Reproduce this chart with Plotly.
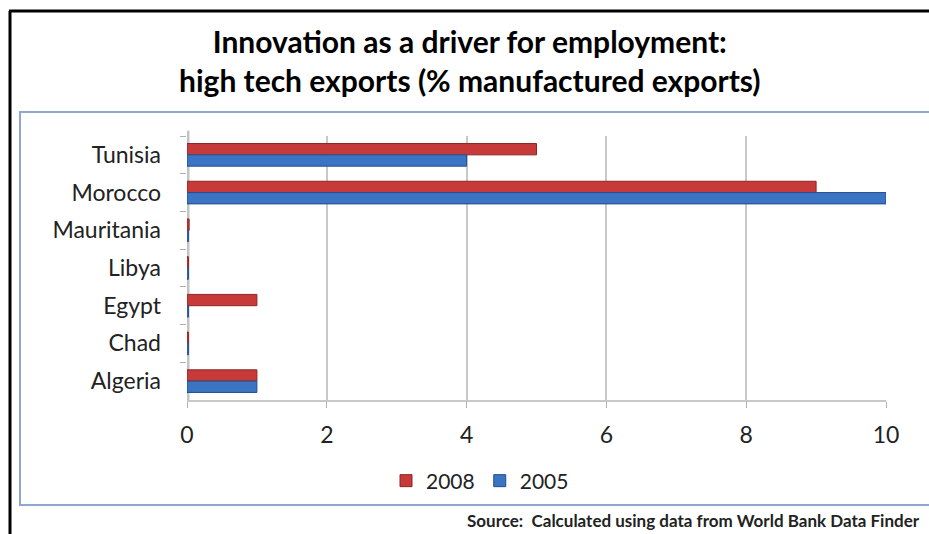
import plotly.graph_objects as go

# Country categories, top to bottom as drawn
countries = ["Tunisia", "Morocco", "Mauritania", "Libya", "Egypt", "Chad", "Algeria"]
# High tech exports as % of manufactured exports
exports_2008 = [5.0, 9.0, 0.03, 0.02, 1.0, 0.02, 1.0]
exports_2005 = [4.0, 10.0, 0.02, 0.02, 0.02, 0.02, 1.0]
x_ticks = [0, 2, 4, 6, 8, 10]

RED = '#C63A3A'
BLUE = '#3A74C2'
FONT = 'Lato'

W, H = 929, 534
L, R, T, B = 187, 43, 136, 134


def px_x(px):
    return (px - L) / (W - L - R)


def px_y(py):
    return (H - B - py) / (H - T - B)


fig = go.Figure()
fig.add_trace(go.Bar(
    name='2008', y=countries, x=exports_2008, orientation='h',
    marker=dict(color=RED, line=dict(color='#8E2424', width=1)),
))
fig.add_trace(go.Bar(
    name='2005', y=countries, x=exports_2005, orientation='h',
    marker=dict(color=BLUE, line=dict(color='#244E8A', width=1)),
))

shapes = [
    # outer black frame (left and top)
    dict(type='line', xref='paper', yref='paper', x0=px_x(10), x1=px_x(10),
         y0=px_y(11), y1=px_y(540), line=dict(color='black', width=3)),
    dict(type='line', xref='paper', yref='paper', x0=px_x(9), x1=px_x(935),
         y0=px_y(11), y1=px_y(11), line=dict(color='black', width=3)),
    # chart area box
    dict(type='rect', xref='paper', yref='paper', x0=px_x(20), x1=px_x(940),
         y0=px_y(505), y1=px_y(112), line=dict(color='#8EA7CC', width=2)),
    # side wall of the plot
    dict(type='line', xref='x', yref='paper', x0=0, x1=0, y0=0, y1=1.02,
         line=dict(color='#C4C4C4', width=5), layer='below'),
]

fig.update_layout(
    width=W, height=H,
    barmode='group', bargap=0.4, bargroupgap=0,
    paper_bgcolor='white', plot_bgcolor='white',
    font=dict(family=FONT, color='#222222', size=22),
    xaxis=dict(
        range=[0, 10], tickvals=x_ticks, showgrid=True, gridcolor='#C8C8C8', gridwidth=2,
        zeroline=False, showline=True, linecolor='#C8C8C8', linewidth=2,
        ticks='outside', ticklen=6, tickcolor='#B0B0B0', ticklabelstandoff=7,
        tickfont=dict(size=23, color='#222222'),
    ),
    yaxis=dict(
        autorange='reversed', showgrid=False, zeroline=False, showline=False,
        ticks='outside', tickson='boundaries', ticklen=6, tickcolor='#B0B0B0',
        ticklabelstandoff=25, tickfont=dict(size=23, color='#222222'),
    ),
    legend=dict(
        orientation='h', x=px_x(480), xanchor='center', y=px_y(481), yanchor='middle',
        font=dict(size=21, color='#222222'), itemwidth=30,
    ),
    shapes=shapes,
    annotations=[
        dict(text="Innovation as a driver for employment:<br>high tech exports (% manufactured exports)",
             xref='paper', yref='paper', x=px_x(470), y=px_y(61),
             xanchor='center', yanchor='middle', showarrow=False,
             font=dict(family=FONT, size=30, color='black', weight='bold')),
        dict(text="<b>Source:  Calculated using data from World Bank Data Finder</b>",
             xref='paper', yref='paper', x=px_x(922), y=px_y(520),
             xanchor='right', yanchor='middle', showarrow=False,
             font=dict(size=17, color='#222222')),
    ],
    margin=dict(l=L, r=R, t=T, b=B),
)

fig.write_html("out.html", config={'displayModeBar': False},
               post_script="document.body.style.margin='0';")
